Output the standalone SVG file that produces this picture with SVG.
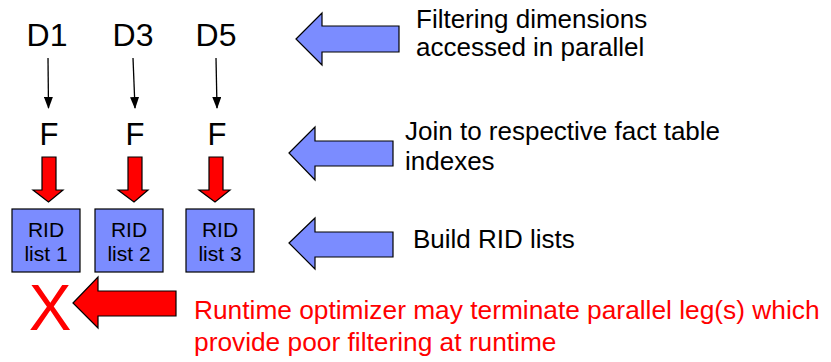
<svg xmlns="http://www.w3.org/2000/svg" width="831" height="362" viewBox="0 0 831 362">
<defs>
<style>
text{font-family:"Liberation Sans",Arial,sans-serif;}
.big{font-size:32px;fill:#000;text-anchor:middle;}
.lbl{font-size:26px;fill:#000;}
.red{font-size:26.3px;fill:#ff0000;}
.box{fill:#7b8cff;stroke:#000;stroke-width:1.2;}
.boxt{font-size:21px;fill:#000;text-anchor:middle;}
.blue{fill:#7b8cff;stroke:#000;stroke-width:1.2;}
.rarrow{fill:#ff0000;stroke:#000;stroke-width:1.2;}
.thin{stroke:#000;stroke-width:1.3;fill:none;marker-end:url(#ah);}
</style>
<marker id="ah" viewBox="0 0 12 9" refX="11" refY="4.5" markerWidth="12" markerHeight="9" markerUnits="userSpaceOnUse" orient="auto">
<path d="M0,0 L12,4.5 L0,9 Z" fill="#000"/>
</marker>
</defs>
<g id="d1"><text class="big" x="47" y="46">D1</text></g>
<g id="d3"><text class="big" x="133" y="46">D3</text></g>
<g id="d5"><text class="big" x="216" y="46">D5</text></g>
<g id="f1"><text class="big" x="49" y="145" style="font-size:31px">F</text></g>
<g id="f2"><text class="big" x="135" y="145" style="font-size:31px">F</text></g>
<g id="f3"><text class="big" x="217" y="145" style="font-size:31px">F</text></g>
<g id="rid1"><rect class="box" x="12" y="209" width="68" height="63"/><text class="boxt" x="46" y="237">RID</text><text class="boxt" x="46" y="261">list 1</text></g>
<g id="rid2"><rect class="box" x="95" y="209" width="68" height="63"/><text class="boxt" x="129" y="237">RID</text><text class="boxt" x="129" y="261">list 2</text></g>
<g id="rid3"><rect class="box" x="186" y="209" width="68" height="63"/><text class="boxt" x="220" y="237">RID</text><text class="boxt" x="220" y="261">list 3</text></g>
<g id="x"><text x="50" y="330" style="font-size:64px;fill:#ff0000;text-anchor:middle">X</text></g>
<g id="note1"><text class="lbl" x="416" y="28">Filtering dimensions</text><text class="lbl" x="416" y="56">accessed in parallel</text></g>
<g id="note2"><text class="lbl" x="405" y="140">Join to respective fact table</text><text class="lbl" x="405" y="170">indexes</text></g>
<g id="note3"><text class="lbl" x="413" y="248">Build RID lists</text></g>
<g id="note4"><text class="red" x="194" y="319">Runtime optimizer may terminate parallel leg(s) which</text><text class="red" x="194" y="351">provide poor filtering at runtime</text></g>
<g id="connectors">
<line class="thin" x1="48" y1="58" x2="48.5" y2="108"/>
<line class="thin" x1="133" y1="58" x2="135" y2="108"/>
<line class="thin" x1="216" y1="58" x2="217" y2="108"/>
<path class="rarrow" d="M42,157 H56 V190 H63 L48.5,202 L33,190 H42 Z"/>
<path class="rarrow" d="M128,157 H142 V190 H148 L134,202 L118,190 H128 Z"/>
<path class="rarrow" d="M209,157 H223 V190 H230 L215,202 L199,190 H209 Z"/>
<path class="blue" d="M296,39 L322,13 V26 H399 V52 H322 V65 Z"/>
<path class="blue" d="M289,153 L315,127 V141 H393 V166 H315 V180 Z"/>
<path class="blue" d="M289,243 L315,218 V232 H393 V257 H315 V269 Z"/>
<path class="rarrow" d="M73,303 L98,277 V291 H176 V316 H98 V328 Z"/>
</g>
</svg>
